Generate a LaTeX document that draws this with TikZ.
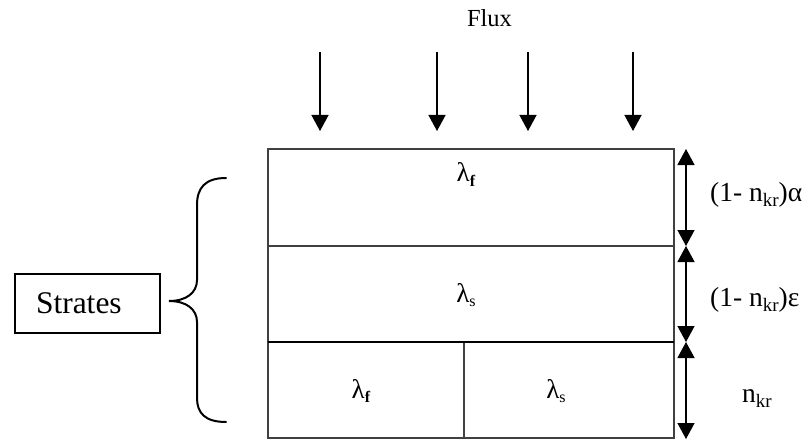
\documentclass[tikz,border=0pt]{standalone}
\usepackage{fontspec}
\setmainfont{Liberation Serif}
\usetikzlibrary{arrows.meta}
\newcommand{\lsub}[2]{{\fontsize{#2}{#2}\selectfont\raisebox{-0.3em}{#1}}}
\begin{document}
\begin{tikzpicture}[x=1pt,y=-1pt,
  cell/.style={draw=black!75, line width=1.2pt},
  thickline/.style={draw=black, line width=2.4pt},
  flow/.style={line width=1.4pt, -{Triangle[width=17pt,length=16pt]}},
  dimarrow/.style={line width=1.3pt, {Triangle[width=17pt,length=16pt]}-{Triangle[width=17pt,length=16pt]}},
  lab/.style={font=\fontsize{27}{27}\selectfont, inner sep=0pt},
  rlab/.style={font=\fontsize{27.5}{27.5}\selectfont, inner sep=0pt, anchor=base west},
  bracestyle/.style={line width=2pt, line cap=round}]
\useasboundingbox (0,0) rectangle (811,441);
% corners
\coordinate (tl) at (268,149);
\coordinate (tr) at (674,149);
\coordinate (bl) at (268,438);
\coordinate (br) at (674,438);
\coordinate (m1l) at (268,246);
\coordinate (m1r) at (674,246);
\coordinate (m2l) at (268,342);
\coordinate (m2r) at (674,342);
\coordinate (dt) at (464,342);
\coordinate (db) at (464,438);
% main box
\draw[cell] (tl) -- (tr) -- (br) -- (bl) -- cycle;
\draw[cell] (m1l) -- (m1r);
\draw[cell] (dt) -- (db);
\draw[thickline] (m2l) -- (m2r);
% flux
\node[font=\fontsize{24.5}{24.5}\selectfont, inner sep=0pt, anchor=base] (flux) at (489.5,27) {Flux};
\foreach \i/\x in {1/320,2/437,3/528,4/633}{
  \coordinate (fs\i) at (\x,52);
  \coordinate (fe\i) at (\x,131);
  \draw[flow] (fs\i) -- (fe\i);
}
% dimension arrows
\coordinate (r0) at (686,149);
\coordinate (r1) at (686,246);
\coordinate (r2) at (686,342);
\coordinate (r3) at (686,439);
\draw[dimarrow] (r0) -- (r1);
\draw[dimarrow] (r1) -- (r2);
\draw[dimarrow] (r2) -- (r3);
% lambda labels
\node[lab, anchor=base] (lf1) at (466,182) {λ\lsub{\textbf{f}}{16}};
\node[lab, anchor=base] (ls1) at (466,302) {λ\lsub{s}{16}};
\node[lab, anchor=base] (lf2) at (361,398) {λ\lsub{\textbf{f}}{16}};
\node[lab, anchor=base] (ls2) at (556,398) {λ\lsub{s}{16}};
% right labels
\node[rlab] (la) at (710,201) {(1- n\lsub{kr}{19})α};
\node[rlab] (le) at (710,306) {(1- n\lsub{kr}{19})ε};
\node[rlab] (ln) at (742,402) {n\lsub{kr}{19}};
% strates box
\node[draw, line width=2pt, anchor=west, inner xsep=21pt, inner ysep=0pt,
      text width=103pt, align=left, minimum height=59pt,
      font=\fontsize{31.5}{31.5}\selectfont] (strates) at (14,303.5) {Strates};
% brace
\coordinate (btop) at (226,178);
\coordinate (btip) at (169,301);
\coordinate (bbot) at (226,422);
\draw[bracestyle] (btop) .. controls (205,178) and (197,188) .. (197,205)
  -- (197,280) .. controls (197,293) and (186,301) .. (btip)
  .. controls (186,301) and (197,309) .. (197,322)
  -- (197,398) .. controls (197,413) and (205,422) .. (bbot);
\end{tikzpicture}
\end{document}
